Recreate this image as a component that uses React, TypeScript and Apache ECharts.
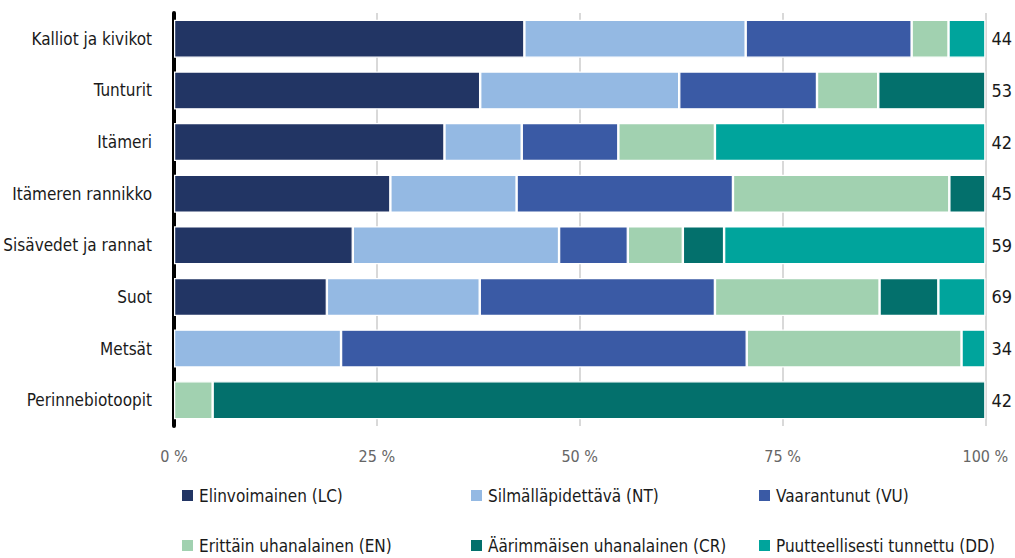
import React, { useEffect, useRef } from "react";
import * as echarts from "echarts";

const categories = [
  "Kalliot ja kivikot",
  "Tunturit",
  "Itämeri",
  "Itämeren rannikko",
  "Sisävedet ja rannat",
  "Suot",
  "Metsät",
  "Perinnebiotoopit",
];

// species counts per category (totals on the right)
const seriesNames = [
  "Elinvoimainen (LC)",
  "Silmälläpidettävä (NT)",
  "Vaarantunut (VU)",
  "Erittäin uhanalainen (EN)",
  "Äärimmäisen uhanalainen (CR)",
  "Puutteellisesti tunnettu (DD)",
];
const lc = [19, 20, 14, 12, 13, 13, 0, 0];
const nt = [12, 13, 4, 7, 15, 13, 7, 0];
const vu = [9, 9, 5, 12, 5, 20, 17, 0];
const en = [2, 4, 5, 12, 4, 14, 9, 2];
const cr = [0, 7, 0, 2, 3, 5, 0, 40];
const dd = [2, 0, 14, 0, 19, 4, 1, 0];
const totals = [44, 53, 42, 45, 59, 69, 34, 42];
const xTicks = ["0 %", "25 %", "50 %", "75 %", "100 %"];

const colors = ["#223564", "#94b9e3", "#3a5aa5", "#a1d1b0", "#03706c", "#00a49c"];

const FONT = '"Liberation Sans Narrow", "DejaVu Sans Condensed", "Roboto", sans-serif';

export default function App() {
  const ref = useRef<HTMLDivElement>(null);
  useEffect(() => {
    if (!ref.current) return;
    const chart = echarts.init(ref.current, null, { renderer: "svg" });
    const all = [lc, nt, vu, en, cr, dd];
    const series = all.map((arr, i) => ({
      name: seriesNames[i],
      type: "bar",
      stack: "total",
      barWidth: 38,
      itemStyle: { color: colors[i], borderColor: "#ffffff", borderWidth: 1.2 },
      data: arr.map((v, j) => (v === 0 ? null : (v / totals[j]) * 100)),
    }));
    const legendPos = [
      [180, 487],
      [469, 487],
      [757, 487],
      [180, 537],
      [469, 537],
      [757, 537],
    ];
    const legends = seriesNames.map((n, i) => ({
      data: [n],
      left: legendPos[i][0],
      top: legendPos[i][1],
      icon: "rect",
      itemWidth: 13,
      itemHeight: 13,
      itemGap: 8,
      padding: 0,
      selectedMode: false,
      textStyle: { fontFamily: FONT, fontSize: 17, color: "#1a1a1a", padding: [0, 0, 0, 0] },
    }));
    chart.setOption({
      animation: false,
      textStyle: { fontFamily: FONT },
      color: colors,
      legend: legends,
      grid: { left: 174, right: 23, top: 13, height: 413, containLabel: false },
      xAxis: {
        type: "value",
        min: 0,
        max: 100,
        interval: 25,
        axisLine: { show: false },
        axisTick: { show: false },
        splitLine: { show: true, lineStyle: { color: "#d9d9d9", width: 2 } },
        axisLabel: {
          margin: 22,
          fontFamily: FONT,
          fontSize: 16,
          color: "#666666",
          formatter: (v: number) => xTicks[Math.round(v / 25)],
        },
      },
      yAxis: [
        {
          type: "category",
          inverse: true,
          data: categories,
          axisLine: { show: true, lineStyle: { color: "#000000", width: 4 } },
          axisTick: { show: false },
          axisLabel: { margin: 22, fontFamily: FONT, fontSize: 17, color: "#1a1a1a" },
        },
        {
          type: "category",
          inverse: true,
          position: "right",
          data: totals.map(String),
          axisLine: { show: false },
          axisTick: { show: false },
          axisLabel: { margin: 6, fontFamily: FONT, fontSize: 18, color: "#1a1a1a" },
        },
      ],
      series,
    });
    return () => chart.dispose();
  }, []);
  return (
    <div
      ref={ref}
      style={{ position: "fixed", left: 0, top: 0, width: 1015, height: 558, background: "#fff" }}
    />
  );
}
